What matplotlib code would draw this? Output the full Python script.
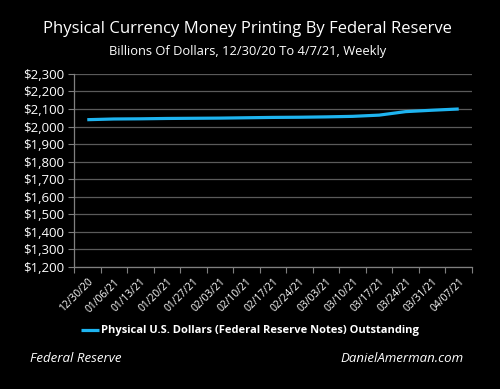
import matplotlib
matplotlib.use("Agg")
import matplotlib.pyplot as plt
import numpy as np
from matplotlib.ticker import FuncFormatter, FixedLocator

dates = ["12/30/20", "01/06/21", "01/13/21", "01/20/21", "01/27/21", "02/03/21",
         "02/10/21", "02/17/21", "02/24/21", "03/03/21", "03/10/21", "03/17/21",
         "03/24/21", "03/31/21", "04/07/21"]
notes = [2039, 2043, 2044, 2046, 2047, 2048, 2050, 2052, 2053, 2055, 2058, 2065,
         2085, 2093, 2100]
y_ticks = list(range(1200, 2301, 100))

plt.rcParams['font.family'] = ['Open Sans', 'DejaVu Sans']

fig = plt.figure(figsize=(5, 3.89), dpi=100, facecolor='black')
ax = fig.add_axes([0.148, 0.314, 0.796, 0.496], facecolor='black')

x = np.arange(len(dates))
ln, = ax.plot(x, notes, color='#1EB4F0', lw=2.3, solid_capstyle='butt',
              label='Physical U.S. Dollars (Federal Reserve Notes) Outstanding')

ax.set_xlim(-0.5, len(dates) - 0.5)
ax.set_ylim(1200, 2300)
ax.set_yticks(y_ticks)
ax.yaxis.set_major_formatter(FuncFormatter(lambda v, p: '${:,.0f}'.format(v)))
ax.grid(axis='y', color='#5a5a5a', lw=0.9)
ax.set_axisbelow(True)

ax.set_xticks(x)
ax.set_xticklabels(dates, rotation=45, ha='right', rotation_mode='anchor')
ax.xaxis.set_minor_locator(FixedLocator(np.arange(-0.5, len(dates), 1)))
ax.tick_params(axis='x', which='major', length=0, pad=7, labelsize=7.4, colors='white')
ax.tick_params(axis='x', which='minor', length=4, color='#808080', width=0.8)
ax.tick_params(axis='y', length=4, color='#808080', width=0.8, labelsize=9.5,
               colors='white', pad=3)
ax.tick_params(axis='y', color='#808080')

for s in ['top', 'right']:
    ax.spines[s].set_visible(False)
for s in ['left', 'bottom']:
    ax.spines[s].set_color('#808080')
    ax.spines[s].set_linewidth(0.9)

fig.text(0.495, 1 - 29 / 389, 'Physical Currency Money Printing By Federal Reserve',
         color='white', fontsize=12, ha='center', va='center')
fig.text(0.495, 1 - 52 / 389, 'Billions Of Dollars, 12/30/20 To 4/7/21, Weekly',
         color='white', fontsize=9.3, ha='center', va='center')

leg = fig.legend(handles=[ln], loc='center', bbox_to_anchor=(0.5, 1 - 331 / 389),
                 frameon=False, handlelength=1.6, handletextpad=0.15,
                 labelcolor='white', prop={'weight': 'bold', 'size': 8})

fig.text(0.06, 1 - 359 / 389, 'Federal Reserve', color='white', fontsize=9.5,
         style='italic', ha='left', va='center')
fig.text(0.928, 1 - 359 / 389, 'DanielAmerman.com', color='white', fontsize=9.5,
         style='italic', ha='right', va='center')

fig.savefig('out.png', dpi=100, facecolor='black')
